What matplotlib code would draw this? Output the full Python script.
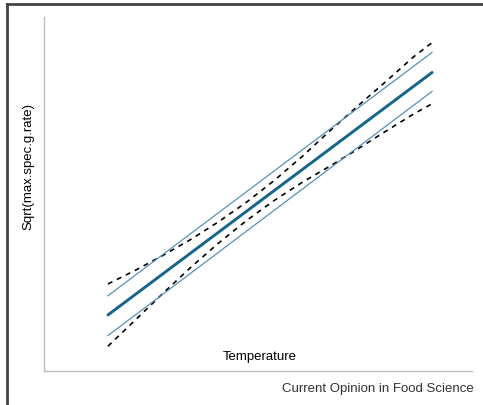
"""Growth-rate model sketch: regression line with confidence and
prediction bands (square-root model vs temperature)."""

import matplotlib.pyplot as plt
from matplotlib.lines import Line2D

plt.rcParams["font.family"] = ["Liberation Sans", "DejaVu Sans"]

# values (arbitrary units, no ticks shown)
temp_fit = [5, 40]
sqrt_rate_fit = [0.19, 1.012]
pred_upper = [0.255, 1.080]
pred_lower = [0.120, 0.948]

temp_band = [5, 8, 11, 14, 17, 20, 23, 26, 29, 32, 35, 38, 40]
conf_upper = [0.295, 0.342, 0.393, 0.447, 0.507, 0.573, 0.647,
              0.728, 0.815, 0.899, 0.981, 1.065, 1.113]
conf_lower = [0.084, 0.174, 0.265, 0.353, 0.435, 0.511, 0.579,
              0.640, 0.695, 0.753, 0.813, 0.871, 0.906]

line_col = "#17648a"
band_col = "#4e8db0"

fig = plt.figure(figsize=(4.83, 4.06), dpi=100)
ax = fig.add_axes([0.0911, 0.0837, 0.886, 0.872])

# confidence band (dashed) and prediction band (thin)
ax.plot(temp_band, conf_upper, color="k", lw=1.2, ls=(0, (3, 3)))
ax.plot(temp_band, conf_lower, color="k", lw=1.2, ls=(0, (3, 3)))
ax.plot(temp_fit, pred_upper, color=band_col, lw=0.85)
ax.plot(temp_fit, pred_lower, color=band_col, lw=0.85)
ax.plot(temp_fit, sqrt_rate_fit, color=line_col, lw=2.1, solid_capstyle="round")

ax.set_xlim(-1.9, 44.3)
ax.set_ylim(0, 1.2)
ax.set_xticks([])
ax.set_yticks([])
for side in ("top", "right"):
    ax.spines[side].set_visible(False)
for side in ("left", "bottom"):
    ax.spines[side].set_color("#bdbdbd")
    ax.spines[side].set_linewidth(1.0)

ax.text(0.505, 0.042, "Temperature", transform=ax.transAxes,
        ha="center", va="center", fontsize=9.5)
fig.text(28 / 483, 1 - 166 / 406, "Sqrt(max.spec.g.rate)", rotation=90,
         ha="center", va="center", fontsize=9.5)
fig.text(474 / 483, 1 - 389 / 406, "Current Opinion in Food Science",
         ha="right", va="center", fontsize=9.5, color="#333333")

# page frame (left and top edges)
fig.add_artist(Line2D([7 / 483, 7 / 483], [0, 1 - 5 / 406],
                      transform=fig.transFigure, color="#444444", lw=2))
fig.add_artist(Line2D([7 / 483, 1], [1 - 5 / 406, 1 - 5 / 406],
                      transform=fig.transFigure, color="#444444", lw=2))

fig.savefig("out.png", dpi=100)
